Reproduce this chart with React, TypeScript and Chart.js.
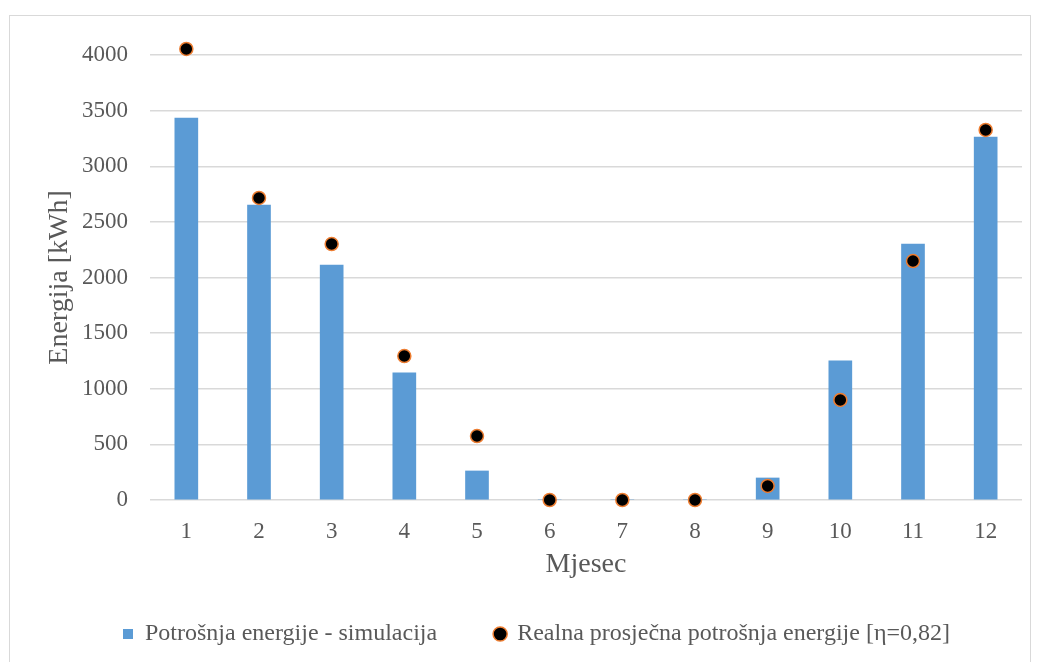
import React, { useEffect, useRef } from "react";
import { Chart, registerables } from "chart.js";

Chart.register(...registerables);

const months = ["1", "2", "3", "4", "5", "6", "7", "8", "9", "10", "11", "12"];
const simulation = [3434, 2652, 2112, 1142, 261, 0, 0, 0, 198, 1250, 2301, 3263];
const measured = [4054, 2715, 2301, 1294, 575, 0, 0, 0, 126, 899, 2148, 3326];
const yTicks = [0, 500, 1000, 1500, 2000, 2500, 3000, 3500, 4000];

const FONT = "'Liberation Serif', 'Times New Roman', serif";
const TEXT = "#595959";

export default function App() {
  const ref = useRef<HTMLCanvasElement | null>(null);

  useEffect(() => {
    if (!ref.current) return;
    const chart = new Chart(ref.current, {
      type: "bar",
      data: {
        labels: months,
        datasets: [
          {
            type: "bar",
            label: "Potrošnja energije - simulacija",
            data: simulation,
            backgroundColor: "#5B9BD5",
            borderWidth: 0,
            barThickness: 23,
            pointStyle: "rect",
            order: 2,
          } as any,
          {
            type: "line",
            label: "Realna prosječna potrošnja energije [η=0,82]",
            data: measured,
            showLine: false,
            pointRadius: 6.5,
            pointHoverRadius: 6.5,
            pointBackgroundColor: "#000000",
            pointBorderColor: "#ED7D31",
            pointBorderWidth: 1.5,
            backgroundColor: "#000000",
            borderColor: "#ED7D31",
            borderWidth: 1.5,
            pointStyle: "circle",
            clip: false,
            order: 1,
          } as any,
        ],
      },
      options: {
        responsive: false,
        animation: false,
        layout: { padding: { left: 38, right: 5, top: 39, bottom: 18 } },
        plugins: {
          tooltip: { enabled: false },
          legend: {
            position: "bottom",
            reverse: true,
            labels: {
              usePointStyle: true,
              color: TEXT,
              font: { family: FONT, size: 24 },
              boxWidth: 10,
              boxHeight: 10,
              padding: 58,
            },
          },
        },
        scales: {
          x: {
            offset: true,
            grid: { display: false },
            border: { display: false },
            ticks: { color: TEXT, font: { family: FONT, size: 23 }, padding: 10 },
            title: {
              display: true,
              text: "Mjesec",
              color: TEXT,
              font: { family: FONT, size: 28 },
              padding: { top: 0, bottom: -17.8 },
            },
            afterFit: (s: any) => {
              s.height = 64;
            },
          },
          y: {
            min: 0,
            max: 4000,
            afterBuildTicks: (s: any) => {
              s.ticks = yTicks.map((v) => ({ value: v }));
            },
            grid: { color: "#d9d9d9", lineWidth: 1.5, drawTicks: false },
            border: { display: false },
            ticks: {
              color: TEXT,
              font: { family: FONT, size: 23 },
              padding: 22,
              callback: (v: any) => String(v),
            },
            title: {
              display: true,
              text: "Energija [kWh]",
              color: TEXT,
              font: { family: FONT, size: 28 },
              padding: { top: -4.8, bottom: 0 },
            },
            afterFit: (s: any) => {
              s.width = 102;
            },
          },
        },
      },
    });
    return () => chart.destroy();
  }, []);

  return (
    <div
      style={{
        position: "absolute",
        left: 9,
        top: 15,
        width: 1022,
        height: 660,
        border: "1px solid #d9d9d9",
        boxSizing: "border-box",
        background: "#fff",
      }}
    >
      <canvas ref={ref} width={1020} height={658} style={{ display: "block" }} />
    </div>
  );
}
